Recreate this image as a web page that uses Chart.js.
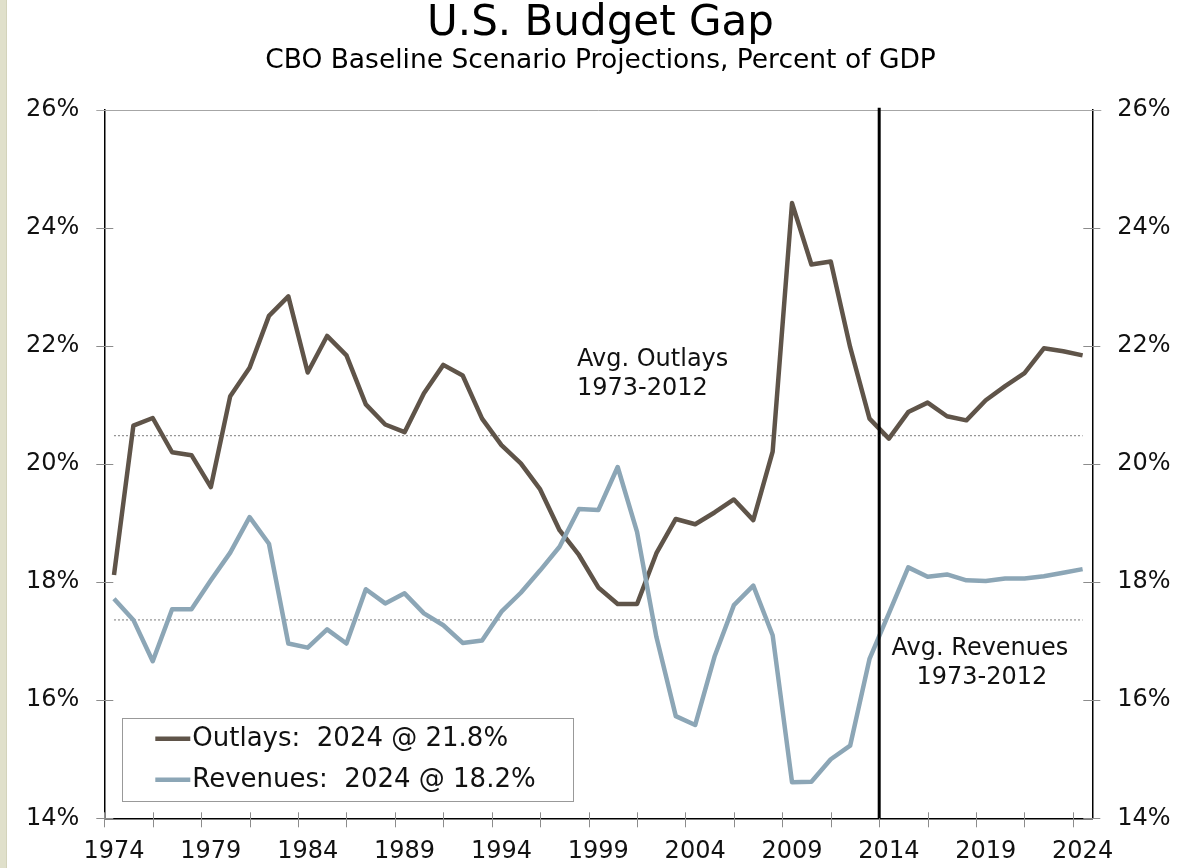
<!DOCTYPE html>
<html>
<head>
<meta charset="utf-8">
<title>U.S. Budget Gap</title>
<script src="https://cdn.jsdelivr.net/npm/chart.js@4.4.1/dist/chart.umd.min.js"></script>
<style>
  html, body { margin: 0; padding: 0; background: #fff; }
  #wrap { position: relative; width: 1201px; height: 868px; }
  #edge { position: absolute; left: 0; top: 0; width: 6px; height: 868px; background: #e0e0cb; border-right: 1px solid #d3d3bb; }
</style>
</head>
<body>
<div id="wrap">
  <canvas id="budgetChart"></canvas>
  <div id="edge"></div>
</div>
<script>
// fiscal years on the category axis
const years = Array.from({ length: 51 }, (_, i) => 1974 + i);

// percent of GDP (2014 onward = baseline projection)
const outlays = [
    18.12, 20.65, 20.78, 20.20, 20.15, 19.61, 21.15, 21.63, 22.51, 22.84,
    21.55, 22.17, 21.84, 21.01, 20.67, 20.54, 21.20, 21.68, 21.50, 20.77,
    20.32, 20.01, 19.57, 18.88, 18.46, 17.91, 17.63, 17.63, 18.49, 19.07,
    18.98, 19.18, 19.40, 19.05, 20.21, 24.42, 23.38, 23.43, 21.98, 20.77,
    20.43, 20.88, 21.04, 20.81, 20.74, 21.08, 21.32, 21.54, 21.96, 21.91,
    21.84
];
const revenues = [
    17.72, 17.36, 16.66, 17.54, 17.54, 18.03, 18.50, 19.10, 18.65, 16.96,
    16.89, 17.20, 16.96, 17.88, 17.64, 17.81, 17.47, 17.27, 16.97, 17.01,
    17.50, 17.82, 18.20, 18.60, 19.24, 19.22, 19.95, 18.85, 17.07, 15.73,
    15.58, 16.74, 17.61, 17.94, 17.10, 14.61, 14.62, 15.00, 15.23, 16.70,
    17.47, 18.25, 18.09, 18.13, 18.03, 18.02, 18.06, 18.06, 18.10, 18.16,
    18.22
];

// 1973-2012 averages
const avgOutlays = 20.48;
const avgRevenues = 17.36;
const avgPeriod = '1973-2012';

// projections start after the last actual year
const projectionStart = 2013.5;

const yTicks = [14, 16, 18, 20, 22, 24, 26];
const xLabelYears = [1974, 1979, 1984, 1989, 1994, 1999, 2004, 2009, 2014, 2019, 2024];
const xTickMarks = Array.from({ length: 21 }, (_, i) => 1973.5 + i * 2.5);

const OUTLAY_COLOR = '#5f5449';
const REVENUE_COLOR = '#8ca6b6';
const FONT = "'DejaVu Sans', Verdana, sans-serif";

const toPoints = (vals) => vals.map((v, i) => ({ x: years[i], y: v }));
const flatLine = (v) => [{ x: years[0], y: v }, { x: years[years.length - 1], y: v }];

const decorations = {
    id: 'decorations',
    afterDatasetsDraw(chart) {
        const { ctx, chartArea: a, scales: { x, y } } = chart;
        ctx.save();

        // gray top edge, runs into the 26% tick marks
        ctx.strokeStyle = '#a6a6a6';
        ctx.lineWidth = 1;
        ctx.beginPath();
        ctx.moveTo(a.left - 8, Math.round(a.top) + 0.5);
        ctx.lineTo(a.right + 9, Math.round(a.top) + 0.5);
        ctx.stroke();

        // tick marks crossing the axes
        ctx.strokeStyle = '#8c8c8c';
        ctx.beginPath();
        xTickMarks.forEach(v => {
            const p = Math.round(x.getPixelForValue(v)) + 0.5;
            ctx.moveTo(p, a.bottom - 6);
            ctx.lineTo(p, a.bottom + 9);
        });
        yTicks.slice(0, -1).forEach(v => {
            const p = Math.round(y.getPixelForValue(v)) + 0.5;
            ctx.moveTo(a.left - 8, p);
            ctx.lineTo(a.left + 9, p);
            ctx.moveTo(a.right - 9, p);
            ctx.lineTo(a.right + 8, p);
        });
        ctx.stroke();

        // start of the projection period
        const px = x.getPixelForValue(projectionStart);
        ctx.strokeStyle = '#000';
        ctx.lineWidth = 3;
        ctx.beginPath();
        ctx.moveTo(px, a.top - 2);
        ctx.lineTo(px, a.bottom);
        ctx.stroke();

        // labels for the average lines
        ctx.fillStyle = '#111';
        ctx.font = '24px ' + FONT;
        ctx.textBaseline = 'alphabetic';
        ctx.textAlign = 'left';
        const oy = y.getPixelForValue(avgOutlays);
        const ox = x.getPixelForValue(1997.9);
        ctx.fillText('Avg. Outlays', ox, oy - 70);
        ctx.fillText(avgPeriod, ox, oy - 41);
        ctx.textAlign = 'center';
        const ry = y.getPixelForValue(avgRevenues);
        const rx = x.getPixelForValue(2018.7);
        ctx.fillText('Avg. Revenues', rx, ry + 35);
        ctx.fillText(avgPeriod, rx + 2, ry + 64);

        // boxed legend in the lower left corner
        const bx = a.left + 18, by = a.bottom - 100;
        ctx.fillStyle = '#fff';
        ctx.fillRect(bx, by, 451, 83);
        ctx.strokeStyle = '#999';
        ctx.lineWidth = 1;
        ctx.strokeRect(Math.round(bx) + 0.5, Math.round(by) + 0.5, 451, 83);
        ctx.font = '26px ' + FONT;
        ctx.textAlign = 'left';
        ctx.textBaseline = 'middle';
        const last = years.length - 1;
        const entries = [
            { label: 'Outlays', color: OUTLAY_COLOR, value: outlays[last] },
            { label: 'Revenues', color: REVENUE_COLOR, value: revenues[last] }
        ];
        entries.forEach((e, i) => {
            const ry2 = by + 20.5 + i * 41;
            ctx.strokeStyle = e.color;
            ctx.lineWidth = 4.5;
            ctx.beginPath();
            ctx.moveTo(a.left + 51, ry2);
            ctx.lineTo(a.left + 86, ry2);
            ctx.stroke();
            ctx.fillStyle = '#111';
            ctx.fillText(`${e.label}:  ${years[last]} @ ${e.value.toFixed(1)}%`, a.left + 88, ry2);
        });

        ctx.restore();
    }
};

const yAxis = (position, width) => ({
    type: 'linear',
    position: position,
    min: 14, max: 26,
    afterBuildTicks: (s) => { s.ticks = yTicks.map(v => ({ value: v })); },
    afterFit: (s) => { s.width = width; },
    grid: { color: 'rgba(0,0,0,0)', drawOnChartArea: false, tickLength: 8 },
    border: { color: '#000', width: 1.5 },
    ticks: { padding: 17, color: '#111', font: { size: 24 }, callback: (v) => v + '%' }
});

Chart.defaults.font.family = FONT;
Chart.defaults.color = '#111';

new Chart(document.getElementById('budgetChart'), {
    type: 'line',
    data: {
        datasets: [
            { label: 'Avg. Outlays', data: flatLine(avgOutlays), borderColor: '#7a7a7a', borderWidth: 1, borderDash: [2, 2], pointRadius: 0, order: 4 },
            { label: 'Avg. Revenues', data: flatLine(avgRevenues), borderColor: '#7a7a7a', borderWidth: 1, borderDash: [2, 2], pointRadius: 0, order: 3 },
            { label: 'Outlays', data: toPoints(outlays), borderColor: OUTLAY_COLOR, borderWidth: 4.5, pointRadius: 0, tension: 0, borderJoinStyle: 'round', order: 2 },
            { label: 'Revenues', data: toPoints(revenues), borderColor: REVENUE_COLOR, borderWidth: 4.5, pointRadius: 0, tension: 0, borderJoinStyle: 'round', order: 1 }
        ]
    },
    options: {
        responsive: true,
        maintainAspectRatio: false,
        animation: false,
        layout: { padding: 0 },
        plugins: {
            legend: { display: false },
            tooltip: { enabled: false },
            title: {
                display: true, text: 'U.S. Budget Gap', color: '#000',
                font: { size: 42, weight: 'normal', lineHeight: 1.0 },
                padding: { top: 3, bottom: 0 }
            },
            subtitle: {
                display: true, text: 'CBO Baseline Scenario Projections, Percent of GDP', color: '#000',
                font: { size: 26.5, lineHeight: 1.2 },
                padding: { top: 0, bottom: 33 }
            }
        },
        scales: {
            x: {
                type: 'linear',
                min: 1973.5, max: 2024.5,
                afterBuildTicks: (s) => { s.ticks = xLabelYears.map(v => ({ value: v })); },
                afterFit: (s) => { s.height = 49.7; },
                grid: { color: 'rgba(0,0,0,0)', drawOnChartArea: false, tickLength: 8 },
                border: { color: '#000', width: 1.5 },
                ticks: { autoSkip: false, maxRotation: 0, padding: 11, color: '#111', font: { size: 24 }, callback: (v) => String(v) }
            },
            y: yAxis('left', 104.3),
            y2: yAxis('right', 108.7)
        }
    },
    plugins: [decorations]
});
</script>
</body>
</html>
